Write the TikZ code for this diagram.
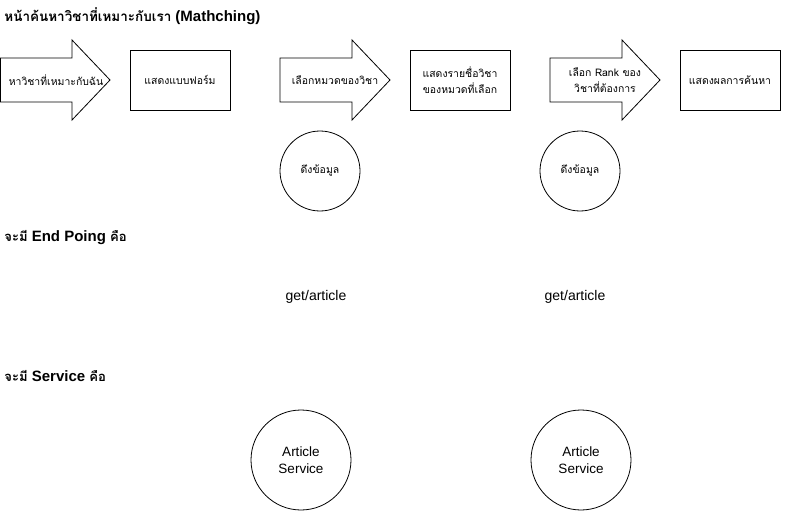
\documentclass[tikz,border=0pt]{standalone}
\usepackage{fontspec}
\setmainfont{Liberation Sans}
\newfontfamily\thaifont[Script=Thai,Scale=0.87]{Loma}
\usetikzlibrary{positioning}

\tikzset{
  box/.style={draw, minimum width=100pt, minimum height=60pt, align=center, font=\thaifont\fontsize{12}{16}\selectfont},
  lbl/.style={align=center, font=\thaifont\fontsize{12}{16}\selectfont},
  fetch/.style={draw, circle, minimum size=80pt, inner sep=0pt, font=\thaifont\fontsize{12}{16}\selectfont},
  svc/.style={draw, circle, minimum size=100pt, inner sep=0pt, align=center, font=\fontsize{13.5}{17}\selectfont},
  heading/.style={anchor=west, inner sep=0pt, font=\bfseries\fontsize{15}{18}\selectfont},
}

\begin{document}
\begin{tikzpicture}[x=1pt,y=-1pt,line width=0.8pt]
    \useasboundingbox (0,0) rectangle (801,511);
    % headings
    \node [heading] (title) at (4,16) {{\thaifont\fontsize{15.5}{18}\selectfont หน้าค้นหาวิชาที่เหมาะกับเรา} (Mathching)};
    \node [heading] (endpoint) at (4,238) {{\thaifont จะมี} End Poing {\thaifont คือ}};
    \node [heading] (service) at (4,376) {{\thaifont จะมี} Service {\thaifont คือ}};
    % arrows
    \draw (0.5,58)--(72,58)--(72,40)--(110,80)--(72,120)--(72,102)--(0.5,102)--cycle;
    \draw (280,58)--(352,58)--(352,40)--(390,80)--(352,120)--(352,102)--(280,102)--cycle;
    \draw (550,58)--(622,58)--(622,40)--(660,80)--(622,120)--(622,102)--(550,102)--cycle;
    \node [lbl] (find) at (56,80) {หาวิชาที่เหมาะกับฉัน};
    \node [lbl] (pickcat) at (335,80) {เลือกหมวดของวิชา};
    \node [lbl] (pickrank) at (605,80) {เลือก Rank ของ\\วิชาที่ต้องการ};
    % boxes
    \node [box] (form) at (180,80) {แสดงแบบฟอร์ม};
    \node [box] (list) at (460,80) {แสดงรายชื่อวิชา\\ของหมวดที่เลือก};
    \node [box] (result) at (730,80) {แสดงผลการค้นหา};
    % data
    \node [fetch] (fetchA) at (320,171) {ดึงข้อมูล};
    \node [fetch] (fetchB) at (580,171) {ดึงข้อมูล};
    \node [font=\fontsize{14}{17}\selectfont] (getA) at (316,297) {get/article};
    \node [font=\fontsize{14}{17}\selectfont] (getB) at (575,297) {get/article};
    \node [svc] (svcA) at (301,460) {Article\\Service};
    \node [svc] (svcB) at (581,460) {Article\\Service};
\end{tikzpicture}
\end{document}
